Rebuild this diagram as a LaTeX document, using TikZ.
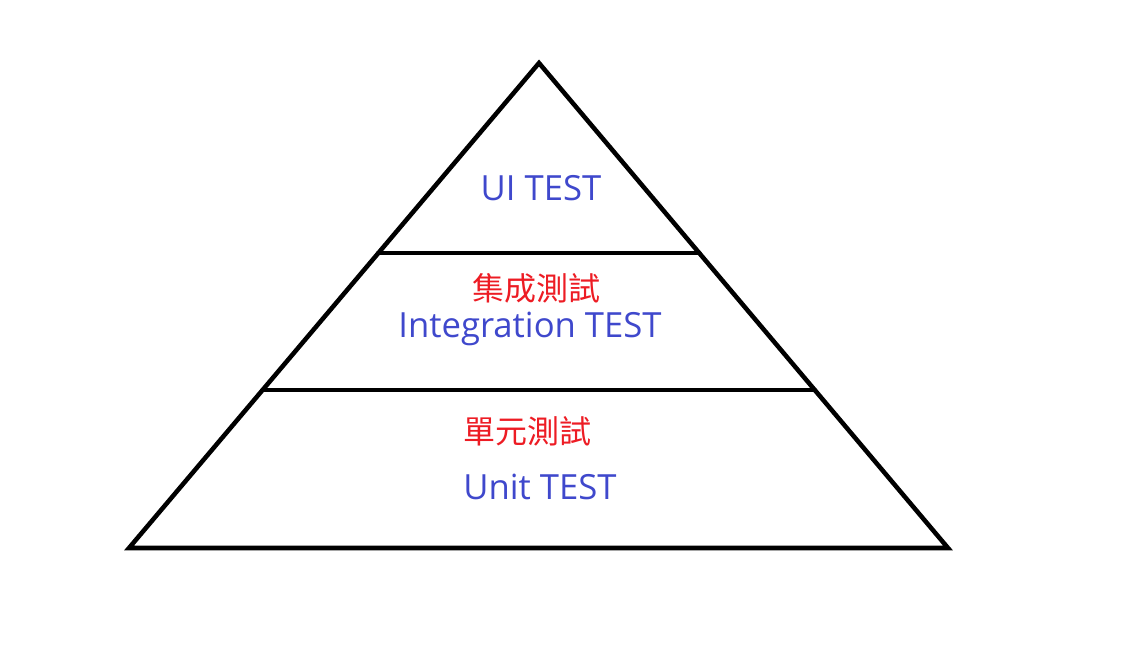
\documentclass[tikz,border=0pt]{standalone}
\usepackage{fontspec}
\setmainfont{Open Sans}
\newfontfamily\cjk{Noto Sans CJK TC}
\usetikzlibrary{positioning,calc}

\begin{document}
\begin{tikzpicture}[x=0.75pt, y=-0.75pt,
    every node/.style = {inner sep=0pt},
    edgeline/.style = {draw, line width=3.4pt, line cap=round, line join=miter},
    entext/.style = {font=\fontsize{26}{30}\selectfont, text={rgb,255:red,63;green,72;blue,204}},
    zhtext/.style = {font=\cjk\fontsize{24}{28}\selectfont, text={rgb,255:red,237;green,28;blue,36}}]
  \useasboundingbox (0,0) rectangle (1134,644);
  \coordinate (top)   at (539,63);
  \coordinate (left)  at (129,548);
  \coordinate (right) at (948,548);
  \coordinate (ul) at ($(top)!0.392!(left)$);
  \coordinate (ur) at ($(top)!0.392!(right)$);
  \coordinate (ml) at ($(top)!0.674!(left)$);
  \coordinate (mr) at ($(top)!0.674!(right)$);

  \draw[edgeline] (top) -- (left) -- (right) -- cycle;
  \draw[edgeline] (ul) -- (ur);
  \draw[edgeline] (ml) -- (mr);

  % labels
  \node (ui)   [entext] at (541,188) {UI TEST};
  \node (zhint) [zhtext] at (536,288) {集成測試};
  \node (int)  [entext] at (530,329) {Integration TEST};
  \node (zhunit) [zhtext] at (527,431) {單元測試};
  \node (unit) [entext] at (540,487) {Unit TEST};
\end{tikzpicture}
\end{document}
